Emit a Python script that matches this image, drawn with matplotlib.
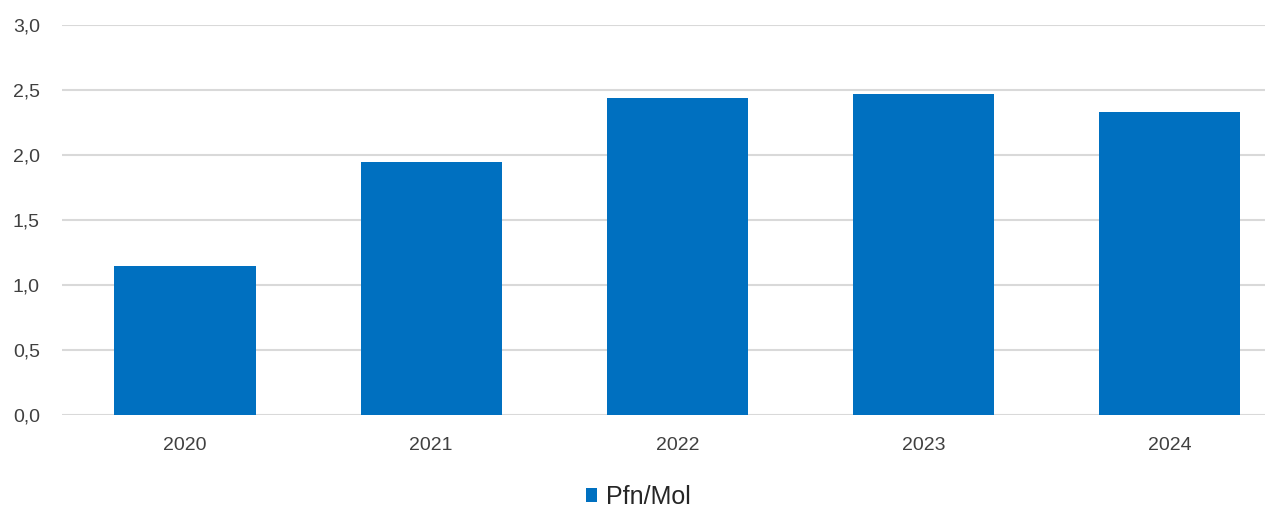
import numpy as np
import matplotlib.pyplot as plt
from matplotlib.ticker import FuncFormatter

years = ["2020", "2021", "2022", "2023", "2024"]
values = [1.15, 1.95, 2.44, 2.47, 2.33]
yticks = [0.0, 0.5, 1.0, 1.5, 2.0, 2.5, 3.0]

plt.rcParams['font.family'] = ['Liberation Sans', 'DejaVu Sans']

fig = plt.figure(figsize=(12.72, 5.07), dpi=100)
ax = fig.add_axes([62 / 1272, 1 - 415 / 507, 1203 / 1272, 390 / 507])

x = np.arange(len(years))
ax.bar(x, values, width=0.573, color="#0070C0", label="Pfn/Mol", zorder=3)

ax.set_xlim(-0.4995, 4.386)
ax.set_ylim(0, 3.0)
ax.set_yticks(yticks)
ax.yaxis.set_major_formatter(FuncFormatter(lambda v, p: f"{v:.1f}".replace(".", ",")))
ax.set_xticks(x)
ax.set_xticklabels(years)
ax.grid(axis="y", color="#D9D9D9", linewidth=1.5, zorder=0)
for s in ax.spines.values():
    s.set_visible(False)
ax.tick_params(axis="both", length=0, labelsize=14, colors="#404040")
ax.tick_params(axis="y", pad=16)
ax.tick_params(axis="x", pad=16)

fig.legend(*ax.get_legend_handles_labels(), loc="center",
           bbox_to_anchor=(638 / 1272, 1 - 497 / 507), frameon=False,
           fontsize=18, handlelength=0.45, handleheight=0.45, handletextpad=0.35,
           borderpad=0, labelcolor="#262626")

fig.savefig("out.png", dpi=100)
